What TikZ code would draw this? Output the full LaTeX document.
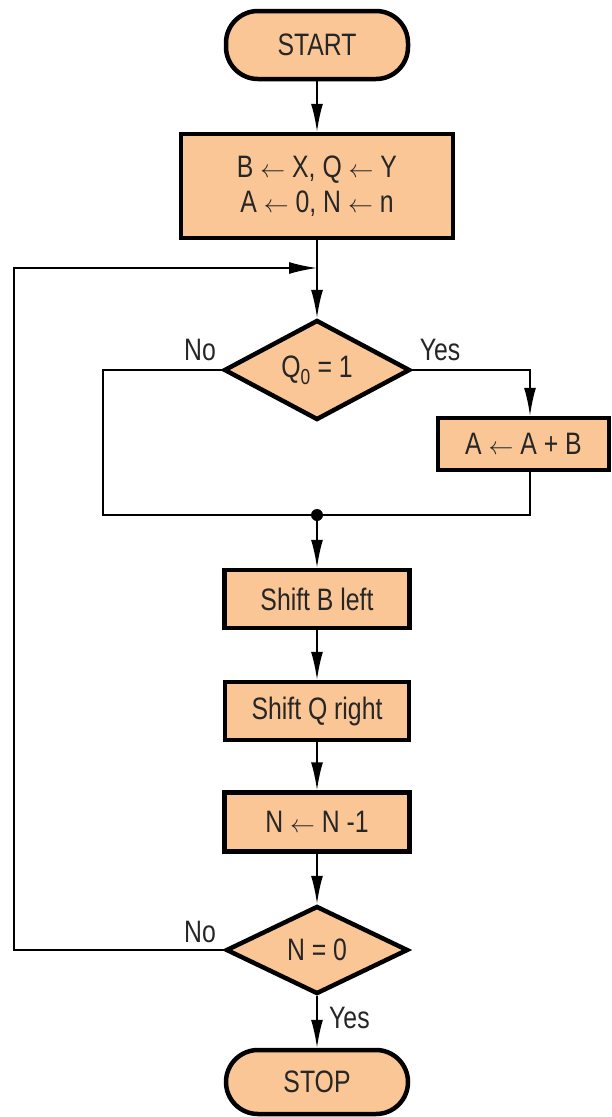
\documentclass[tikz,border=0pt]{standalone}
\usepackage{fontspec}
\setmainfont{Liberation Sans}[FakeStretch=0.8]
\usetikzlibrary{shapes.geometric,arrows.meta}
\definecolor{peach}{RGB}{250,198,150}
\tikzset{
  x=1pt, y=-1pt,
  every node/.style={font=\fontsize{31}{35}\selectfont, text=black!85},
  shape border/.style={draw=black, line width=4.5pt, fill=peach, inner sep=0pt},
  blk/.style={shape border, rectangle, align=center},
  term/.style={shape border, rectangle, rounded corners=32pt},
  dec/.style={shape border, diamond},
  flow/.style={line width=1.8pt, -{Latex[length=28pt,width=12pt]}},
  wire/.style={line width=1.8pt},
  lbl/.style={inner sep=0pt}
}
\begin{document}
\begin{tikzpicture}
\useasboundingbox (0,0) rectangle (611,1117);

% guide columns for the side branches and the loop-back line
\coordinate (ycol) at (530,0);
\coordinate (ncol) at (103,0);
\coordinate (lcol) at (14,0);

% process steps
\node[term, minimum width=182pt, minimum height=68pt] (start) at (317,45) {START};
\node[blk, minimum width=272pt, minimum height=104pt] (init) at (317,186)
  {B $\leftarrow$ X, Q $\leftarrow$ Y\\A $\leftarrow$ 0, N $\leftarrow$ n};
\node[dec, minimum width=186pt, minimum height=90pt] (q0) at (317,370) {Q\textsubscript{0} = 1};
\node[blk, minimum width=171pt, minimum height=52pt] (add) at (523.5,444) {A $\leftarrow$ A + B};
\coordinate (join) at (317,515);
\node[blk, minimum width=185pt, minimum height=58pt] (shb) at (317,599) {Shift B left};
\node[blk, minimum width=184pt, minimum height=58pt] (shq) at (317,711) {Shift Q right};
\node[blk, minimum width=185pt, minimum height=59pt] (dec) at (317,822) {N $\leftarrow$ N -1};
\node[dec, minimum width=182pt, minimum height=88pt] (n0) at (317,950) {N = 0};
\node[term, minimum width=182pt, minimum height=64pt] (stop) at (317,1082) {STOP};

% branch labels
\node[lbl] (l1) at (200,350) {No};
\node[lbl] (l2) at (440,350) {Yes};
\node[lbl] (l3) at (200,932) {No};
\node[lbl, anchor=west] (l4) at (329,1018) {Yes};

% main flow
\draw[flow] (start) -- (init);
\draw[flow] (init) -- (q0);
\draw[flow] (q0.east) -| (add.north -| ycol);
\draw[wire] (add.south -| ycol) |- (join);
\draw[wire] (q0.west) -| (join -| ncol) -- (join);
\fill (join) circle (6pt);
\draw[flow] (join) -- (shb);
\draw[flow] (shb) -- (shq);
\draw[flow] (shq) -- (dec);
\draw[flow] (dec) -- (n0);
\draw[flow] (n0) -- (stop);

% loop back to the test of Q0
\coordinate (merge) at (317,268);
\draw[flow] (n0.west) -- (n0.west -| lcol) |- (merge);
\end{tikzpicture}
\end{document}
